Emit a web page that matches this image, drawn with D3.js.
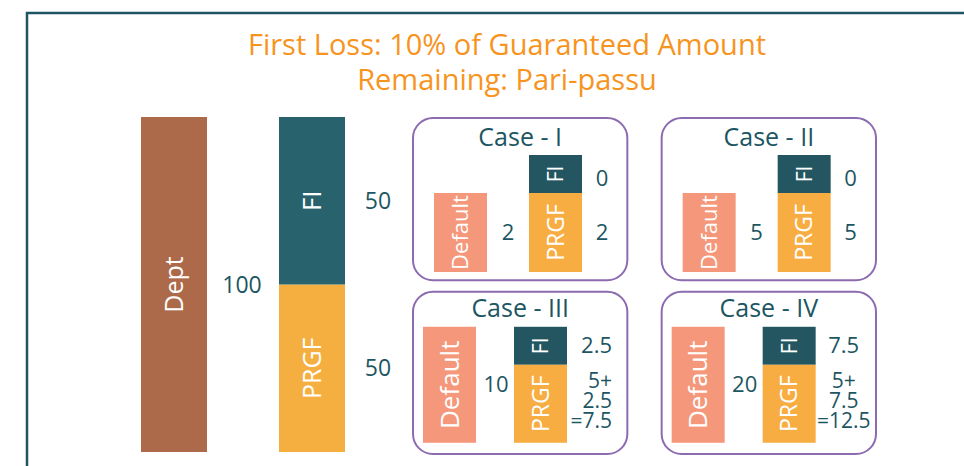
<!DOCTYPE html>
<html>
<head>
<meta charset="utf-8">
<script src="https://cdn.jsdelivr.net/npm/d3@7"></script>
<style>
  body { margin: 0; background: #fff; }
  svg { display: block; font-family: "Segoe UI", "Open Sans", "Noto Sans", sans-serif; }
</style>
</head>
<body>
<div id="chart"></div>
<script>
// title lines
var titleLines = ["First Loss: 10% of Guaranteed Amount", "Remaining: Pari-passu"];

// left side: debt and its split
var mainBars = ["Dept", "Split"];
var deptValue = 100;
var splitNames = ["FI", "PRGF"];
var splitValues = [50, 50];

// the four cases
var caseNames = ["Case - I", "Case - II", "Case - III", "Case - IV"];
var defaultValues = ["2", "5", "10", "20"];
var fiLoss = [["0"], ["0"], ["2.5"], ["7.5"]];
var prgfLoss = [["2"], ["5"], ["5+", "2.5", "=7.5"], ["5+", "7.5", "=12.5"]];

var W = 964, H = 466;
var col = {
  ink: "#1d5662", title: "#f7941e", dept: "#ad6a4b", fi: "#28626c", prgf: "#f5af40",
  fiS: "#235661", prgfS: "#f8ad42", def: "#f5977a", box: "#8c6bb1"
};

var svg = d3.select("#chart").append("svg").attr("width", W).attr("height", H);

// frame, runs off the right and bottom edge
svg.append("rect").attr("x", 27).attr("y", 13).attr("width", 1000).attr("height", 500)
  .attr("fill", "none").attr("stroke", col.ink).attr("stroke-width", 2.5);

svg.selectAll(".title").data(titleLines).enter().append("text")
  .attr("class", "title")
  .attr("x", 507).attr("y", function(d, i){ return 55 + i * 35; })
  .attr("text-anchor", "middle").attr("fill", col.title)
  .attr("font-size", 29).text(String);

// scales for the main bars
var x = d3.scaleBand().domain(mainBars).range([141, 345]).paddingInner(0.5217).paddingOuter(0);
var y = d3.scaleLinear().domain([0, deptValue]).range([452, 117]);

function vlabel(g, cx, cy, txt, size){
  g.append("text").attr("transform", "translate(" + cx + "," + cy + ") rotate(-90)")
    .attr("text-anchor", "middle").attr("dy", "0.35em")
    .attr("fill", "#fff").attr("font-size", size).text(txt);
}

var left = svg.append("g");
left.append("rect").attr("x", x("Dept")).attr("y", y(deptValue))
  .attr("width", x.bandwidth()).attr("height", y(0) - y(deptValue)).attr("fill", col.dept);
vlabel(left, x("Dept") + x.bandwidth() / 2, (y(0) + y(deptValue)) / 2, "Dept", 25);
left.append("text").attr("x", 242).attr("y", (y(0) + y(deptValue)) / 2).attr("dy", "0.35em")
  .attr("text-anchor", "middle").attr("fill", col.ink).attr("font-size", 23).text(deptValue);

// stacked split, FI on top
var stack = [];
var acc = 0;
for (var i = splitNames.length - 1; i >= 0; i--) {
  stack.push({name: splitNames[i], v0: acc, v1: acc + splitValues[i], value: splitValues[i]});
  acc += splitValues[i];
}
var seg = left.selectAll(".seg").data(stack).enter().append("g").attr("class", "seg");
seg.append("rect").attr("x", x("Split")).attr("width", x.bandwidth())
  .attr("y", function(d){ return y(d.v1); })
  .attr("height", function(d){ return y(d.v0) - y(d.v1); })
  .attr("fill", function(d){ return d.name === "FI" ? col.fi : col.prgf; });
seg.each(function(d){
  vlabel(d3.select(this), x("Split") + x.bandwidth() / 2, (y(d.v0) + y(d.v1)) / 2, d.name, d.name === "FI" ? 26 : 25);
});
seg.append("text").attr("x", 378).attr("y", function(d){ return (y(d.v0) + y(d.v1)) / 2; })
  .attr("dy", "0.35em").attr("text-anchor", "middle").attr("fill", col.ink).attr("font-size", 23)
  .text(function(d){ return d.value; });

// case grid
var gx = d3.scaleBand().domain([0, 1]).range([412, 877]).paddingInner(0.13);
var gy = d3.scaleBand().domain([0, 1]).range([117, 455]).paddingInner(0.055);

// inner layout of a case box (top row and bottom row differ a little)
var lay = [
  {titleY: 20, defX: 22, defY: 76, defH: 79, fiX: 117, fiY: 38, fiH: 38, pH: 79, w: 53, valX: 96, numX: 190, defSize: 22, lh: 20, shift: 0},
  {titleY: 17, defX: 11, defY: 36, defH: 116, fiX: 102, fiY: 36, fiH: 38, pH: 78, w: 53, valX: 84, numX: 183, defSize: 26, lh: 20, shift: -3}
];

caseNames.forEach(function(name, k){
  var r = Math.floor(k / 2), c = k % 2, L = lay[r];
  var g = svg.append("g").attr("transform", "translate(" + gx(c) + "," + gy(r) + ")");
  g.append("rect").attr("x", 1).attr("y", 1).attr("width", gx.bandwidth() - 2).attr("height", gy.bandwidth() - 2)
    .attr("rx", 20).attr("fill", "#fff").attr("stroke", col.box).attr("stroke-width", 2);
  g.append("text").attr("x", gx.bandwidth() / 2).attr("y", L.titleY).attr("dy", "0.35em")
    .attr("text-anchor", "middle").attr("fill", col.ink).attr("font-size", 25).text(name);

  g.append("rect").attr("x", L.defX).attr("y", L.defY).attr("width", L.w).attr("height", L.defH).attr("fill", col.def);
  vlabel(g, L.defX + L.w / 2, L.defY + L.defH / 2, "Default", L.defSize);
  g.append("text").attr("x", L.valX).attr("y", L.defY + L.defH / 2).attr("dy", "0.35em")
    .attr("text-anchor", "middle").attr("fill", col.ink).attr("font-size", 22).text(defaultValues[k]);

  g.append("rect").attr("x", L.fiX).attr("y", L.fiY).attr("width", L.w).attr("height", L.fiH).attr("fill", col.fiS);
  vlabel(g, L.fiX + L.w / 2, L.fiY + L.fiH / 2, "FI", 21);
  g.append("rect").attr("x", L.fiX).attr("y", L.fiY + L.fiH).attr("width", L.w).attr("height", L.pH).attr("fill", col.prgfS);
  vlabel(g, L.fiX + L.w / 2, L.fiY + L.fiH + L.pH / 2, "PRGF", 23);

  var anchor = k === 2 ? "end" : "middle";
  var nx = k === 2 ? 200 : L.numX;
  g.append("text").attr("x", nx).attr("y", L.fiY + L.fiH / 2 + (r ? 0 : 4)).attr("dy", "0.35em")
    .attr("text-anchor", anchor).attr("fill", col.ink).attr("font-size", 22).text(fiLoss[k][0]);
  var lines = prgfLoss[k];
  var cy = L.fiY + L.fiH + L.pH / 2 + L.shift;
  g.selectAll(".pl").data(lines).enter().append("text")
    .attr("x", nx)
    .attr("y", function(d, i){ return cy + (i - (lines.length - 1) / 2) * L.lh; })
    .attr("dy", "0.35em").attr("text-anchor", anchor).attr("fill", col.ink)
    .attr("font-size", lines.length > 1 ? 21 : 22)
    .text(String);
});
</script>
</body>
</html>
